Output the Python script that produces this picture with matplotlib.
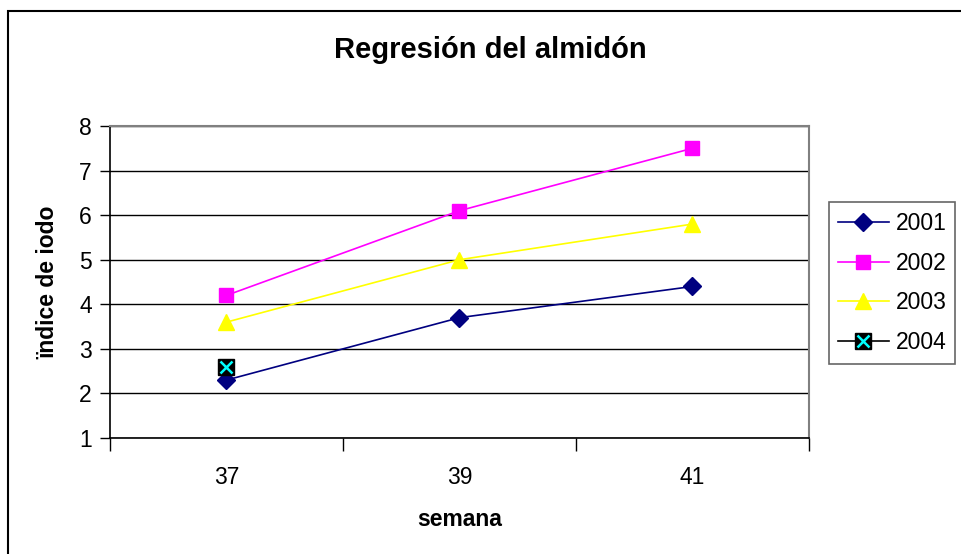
import matplotlib.pyplot as plt
from matplotlib.patches import Rectangle
from matplotlib.legend_handler import HandlerTuple
from matplotlib.lines import Line2D

# data
semanas = ['37', '39', '41']
v2001 = [2.3, 3.7, 4.4]
v2002 = [4.2, 6.1, 7.5]
v2003 = [3.6, 5.0, 5.8]
v2004 = [2.6]

plt.rcParams['font.family'] = ['Liberation Sans', 'DejaVu Sans']

fig = plt.figure(figsize=(9.62, 5.54), dpi=100)
W, H = 962, 554

# outer chart border (only top and left visible)
fig.patches.append(Rectangle((8 / W, -0.1), 1.2, (554 - 11) / H + 0.1,
                             transform=fig.transFigure, fill=False,
                             edgecolor='black', linewidth=1.5))

ax = fig.add_axes([110 / W, (H - 438) / H, 699 / W, 312 / H])

xpos = [i + 0.5 for i in range(len(semanas))]

ax.plot(xpos, v2001, color='#000080', marker='D', markersize=9, lw=1.2, label='2001')
ax.plot(xpos, v2002, color='#FF00FF', marker='s', markersize=10, lw=1.2, label='2002')
ax.plot(xpos, v2003, color='#FFFF00', marker='^', markersize=11.5, lw=1.2, label='2003')
ax.plot(xpos[:1], v2004, color='black', marker='s', markersize=11, lw=1.2, ls='none')
ax.plot(xpos[:1], v2004, color='#00FFFF', marker='x', markersize=8, mew=1.8, ls='none')

ax.set_xlim(0, 3)
ax.set_ylim(1, 8)
ax.set_yticks(range(1, 9))
ax.yaxis.grid(True, color='black', lw=1)
ax.set_axisbelow(True)

ax.set_xticks([0, 1, 2, 3])
ax.set_xticklabels([])
ax.set_xticks(xpos, minor=True)
ax.set_xticklabels(semanas, minor=True)
ax.tick_params(axis='x', which='major', direction='out', length=9, width=1, color='black')
ax.tick_params(axis='x', which='minor', length=0, pad=20, labelsize=16.5)
ax.tick_params(axis='y', direction='out', length=7, width=1, labelsize=16.5, pad=6)

for s in ['top', 'right']:
    ax.spines[s].set_color('#808080')
    ax.spines[s].set_linewidth(1.5)
for s in ['left', 'bottom']:
    ax.spines[s].set_color('black')
    ax.spines[s].set_linewidth(1.2)

ax.set_xlabel('semana', fontsize=16.5, fontweight='bold', labelpad=14)
ax.set_ylabel('ïndice de iodo', fontsize=16.5, fontweight='bold', labelpad=14)

fig.text(490 / W, 1 - 50 / H, 'Regresión del almidón', fontsize=21,
         fontweight='bold', ha='center', va='center')

handles = [
    Line2D([], [], color='#000080', marker='D', markersize=9, lw=1.2),
    Line2D([], [], color='#FF00FF', marker='s', markersize=10, lw=1.2),
    Line2D([], [], color='#FFFF00', marker='^', markersize=11.5, lw=1.2),
    (Line2D([], [], color='black', marker='s', markersize=11, lw=1.2),
     Line2D([], [], color='#00FFFF', marker='x', markersize=8, mew=1.8, ls='none')),
]
leg = fig.legend(handles, ['2001', '2002', '2003', '2004'],
                 handler_map={tuple: HandlerTuple(ndivide=1)},
                 loc='center left', bbox_to_anchor=(829 / W, 1 - 283 / H),
                 fontsize=16.5, frameon=True, fancybox=False, edgecolor='#404040',
                 handlelength=2.2, handletextpad=0.3, labelspacing=0.74,
                 borderpad=0.4, borderaxespad=0)
leg.get_frame().set_linewidth(1.2)

fig.savefig('out.png', dpi=100)
